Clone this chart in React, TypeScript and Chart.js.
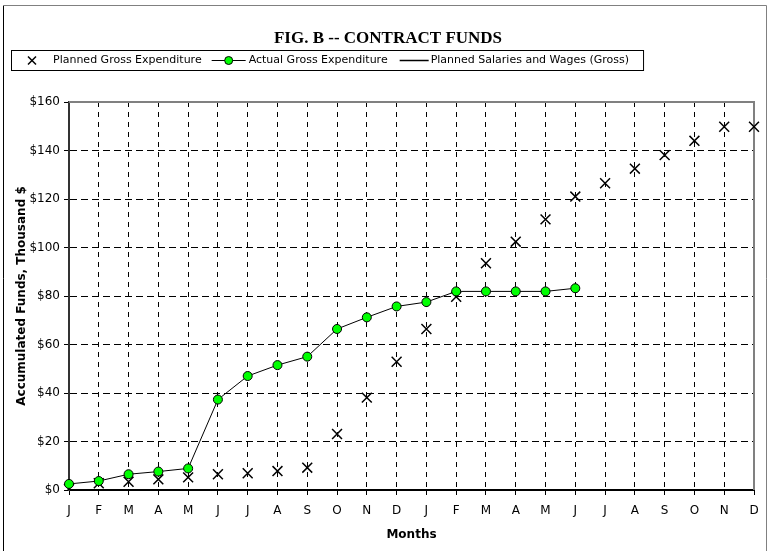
import React, { useEffect, useRef } from "react";
import { Chart, registerables } from "chart.js";

Chart.register(...registerables);

const months = ["J", "F", "M", "A", "M", "J", "J", "A", "S", "O", "N", "D", "J", "F", "M", "A", "M", "J", "J", "A", "S", "O", "N", "D"];
const plannedGross = [0.4, 2.8, 3.4, 4.4, 5.2, 6.5, 6.9, 7.8, 9.2, 23.1, 38.1, 52.9, 66.4, 79.7, 93.5, 102.4, 111.6, 121, 126.5, 132.5, 138.1, 144, 149.8, 149.8];
const actualGross = [2.5, 3.7, 6.5, 7.6, 8.9, 37.3, 47, 51.5, 55, 66.4, 71.2, 75.7, 77.5, 81.9, 81.9, 81.9, 81.9, 83.2, null, null, null, null, null, null];
const plannedSalaries: (number | null)[] = months.map(() => null);
const yTicks = [0, 20, 40, 60, 80, 100, 120, 140, 160];

const TITLE = "FIG. B -- CONTRACT FUNDS";
const LEGEND = ["Planned Gross Expenditure", "Actual Gross Expenditure", "Planned Salaries and Wages (Gross)"];
const FONT = "'DejaVu Sans', 'Liberation Sans', sans-serif";

const decorPlugin = {
  id: "decor",
  beforeDatasetsDraw(chart: any) {
    const { ctx, chartArea } = chart;
    ctx.save();
    ctx.strokeStyle = "#808080";
    ctx.lineWidth = 2;
    ctx.beginPath();
    ctx.moveTo(chartArea.left, chartArea.top);
    ctx.lineTo(chartArea.right, chartArea.top);
    ctx.lineTo(chartArea.right, chartArea.bottom);
    ctx.stroke();
    ctx.restore();
  },
  afterDraw(chart: any) {
    const { ctx } = chart;
    ctx.save();
    // frame
    ctx.lineWidth = 1;
    ctx.strokeStyle = "#000";
    ctx.beginPath();
    ctx.moveTo(3.5, 551);
    ctx.lineTo(3.5, 5.5);
    ctx.stroke();
    ctx.strokeStyle = "#808080";
    ctx.beginPath();
    ctx.moveTo(3.5, 5.5);
    ctx.lineTo(766.5, 5.5);
    ctx.lineTo(766.5, 551);
    ctx.stroke();
    // title
    ctx.fillStyle = "#000";
    ctx.font = "bold 17px 'Liberation Serif', 'Times New Roman', serif";
    ctx.textAlign = "center";
    ctx.textBaseline = "middle";
    ctx.fillText(TITLE, 388, 39);
    // legend
    ctx.font = "11px " + FONT;
    ctx.textAlign = "left";
    const top = 50.5, bottom = 70.5, cy = 60.5;
    const left = 11;
    let x = 32;
    ctx.strokeStyle = "#000";
    ctx.lineWidth = 1.5;
    ctx.beginPath();
    ctx.moveTo(x - 4, cy - 4); ctx.lineTo(x + 4, cy + 4);
    ctx.moveTo(x + 4, cy - 4); ctx.lineTo(x - 4, cy + 4);
    ctx.stroke();
    x = 53;
    ctx.fillText(LEGEND[0], x, cy);
    x += ctx.measureText(LEGEND[0]).width + 10;
    ctx.lineWidth = 1;
    ctx.beginPath();
    ctx.moveTo(x, cy); ctx.lineTo(x + 34, cy); ctx.stroke();
    ctx.beginPath();
    ctx.arc(x + 17, cy, 4, 0, Math.PI * 2);
    ctx.fillStyle = "#00FF00";
    ctx.fill();
    ctx.stroke();
    ctx.fillStyle = "#000";
    x += 37;
    ctx.fillText(LEGEND[1], x, cy);
    x += ctx.measureText(LEGEND[1]).width + 12;
    ctx.lineWidth = 1.5;
    ctx.beginPath();
    ctx.moveTo(x, cy); ctx.lineTo(x + 29, cy); ctx.stroke();
    x += 31;
    ctx.fillText(LEGEND[2], x, cy);
    x += ctx.measureText(LEGEND[2]).width + 14;
    ctx.lineWidth = 1;
    ctx.strokeRect(left + 0.5, top, x - left, bottom - top);
    ctx.restore();
  },
};

export default function App() {
  const ref = useRef<HTMLCanvasElement>(null);
  useEffect(() => {
    if (!ref.current) return;
    const chart = new Chart(ref.current, {
      type: "line",
      data: {
        labels: months,
        datasets: [
          {
            label: LEGEND[0],
            data: plannedGross,
            showLine: false,
            pointStyle: "crossRot",
            pointRadius: 7,
            borderColor: "#000",
            borderWidth: 1.5,
            pointBorderWidth: 1.5,
            order: 2,
          },
          {
            label: LEGEND[1],
            data: actualGross,
            borderColor: "#000",
            borderWidth: 1,
            pointRadius: 4.5,
            pointBackgroundColor: "#00FF00",
            pointBorderColor: "#000",
            pointBorderWidth: 1,
            spanGaps: false,
            order: 1,
          },
          {
            label: LEGEND[2],
            data: plannedSalaries,
            borderColor: "#000",
            borderWidth: 1.5,
            pointRadius: 0,
          },
        ],
      },
      options: {
        animation: false,
        responsive: false,
        layout: { padding: { left: 0, top: 102, right: 15, bottom: 0 } },
        plugins: { legend: { display: false }, title: { display: false }, tooltip: { enabled: false } },
        scales: {
          x: {
            type: "category",
            offset: false,
            afterFit: (s: any) => { s.height = 62; },
            grid: {
              color: (c: any) => (c.index === 0 || c.index === months.length - 1 ? "transparent" : "#000"),
              lineWidth: 1,
              tickColor: "#000",
              tickLength: 5,
            },
            border: { display: true, color: "#000", width: 2, dash: [5, 5] },
            ticks: { color: "#000", font: { family: FONT, size: 12 }, padding: 9, maxRotation: 0, autoSkip: false },
            title: { display: true, text: "Months", color: "#000", font: { family: FONT, size: 12, weight: "bold" }, padding: { top: 0, bottom: 10 } },
          },
          y: {
            min: 0,
            max: 160,
            afterFit: (s: any) => { s.width = 69; },
            afterBuildTicks: (s: any) => { s.ticks = yTicks.map((v) => ({ value: v })); },
            grid: {
              color: (c: any) => (c.tick && (c.tick.value === 0 || c.tick.value === 160) ? "transparent" : "#000"),
              lineWidth: 1,
              tickColor: "#000",
              tickLength: 5,
            },
            border: { display: true, color: "#333", width: 2, dash: [7, 4] },
            ticks: { color: "#000", font: { family: FONT, size: 12 }, padding: 4, callback: (v: any) => "$" + v },
            title: { display: true, text: "Accumulated Funds, Thousand $", color: "#000", font: { family: FONT, size: 12, weight: "bold" }, padding: { top: 15, bottom: 0 } },
          },
        },
      },
      plugins: [decorPlugin],
    });
    return () => chart.destroy();
  }, []);
  return (
    <div style={{ position: "absolute", left: 0, top: 0, width: 769, height: 552, background: "#fff" }}>
      <canvas ref={ref} width={769} height={552} style={{ display: "block" }} />
    </div>
  );
}
